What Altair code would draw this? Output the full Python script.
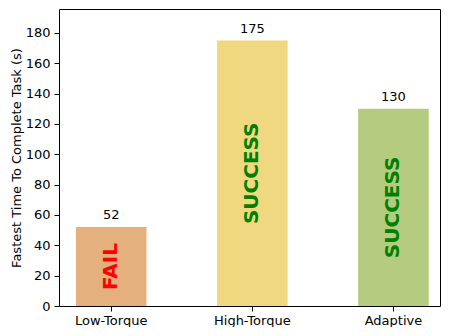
import altair as alt
import pandas as pd

categories = ["Low-Torque", "High-Torque", "Adaptive"]
times = [52, 175, 130]
statuses = ["FAIL", "SUCCESS", "SUCCESS"]
bar_colors = ["#E4B07D", "#F0D880", "#B5CB80"]
status_colors = ["#FF0000", "#008000", "#008000"]
y_ticks = [0, 20, 40, 60, 80, 100, 120, 140, 160, 180]

df = pd.DataFrame({
    "category": categories,
    "time": times,
    "status": statuses,
    "half": [t / 2 for t in times],
    "scolor": status_colors,
})

FONT = "DejaVu Sans"
Y_TITLE = "Fastest Time To Complete Task (s)"

x_axis = alt.Axis(title=None, labelAngle=0, labelFontSize=13, labelFont=FONT,
                  labelColor="black", tickSize=5, tickColor="black",
                  labelPadding=3, domain=False)
y_axis = alt.Axis(title=Y_TITLE, values=y_ticks,
                  grid=False, titleFontSize=13, titleFont=FONT,
                  titleFontWeight="normal", titleColor="black",
                  titlePadding=2, labelFontSize=13, labelFont=FONT,
                  labelColor="black", tickSize=5, tickColor="black",
                  labelPadding=4, domain=False, labelOverlap=False,
                  labelFlush=False)
x_scale = alt.Scale(paddingInner=0.5, paddingOuter=0.1, align=0.6)
y_scale = alt.Scale(domain=[0, 195.8], nice=False, zero=True)


def xe():
    return alt.X("category:N", sort=categories, scale=x_scale, axis=x_axis)


def ye(field):
    return alt.Y(field, type="quantitative", scale=y_scale, axis=y_axis, title=Y_TITLE)


bars = alt.Chart(df).mark_bar().encode(
    x=xe(),
    y=ye("time"),
    color=alt.Color("category:N", scale=alt.Scale(domain=categories, range=bar_colors),
                    legend=None),
)

values = alt.Chart(df).mark_text(
    baseline="alphabetic", align="center", dy=-8, fontSize=13, font=FONT, color="black"
).encode(
    x=xe(),
    y=ye("time"),
    text=alt.Text("time:Q"),
)

status_text = alt.Chart(df).mark_text(
    angle=270, align="center", baseline="middle", fontSize=20, fontWeight="bold", font=FONT
).encode(
    x=xe(),
    y=ye("half"),
    text="status:N",
    color=alt.Color("scolor:N", scale=None),
)

chart = alt.layer(bars, values, status_text).properties(
    width=381,
    height=297,
    autosize=alt.AutoSizeParams(type="none"),
    padding={"left": 51, "top": 1, "right": 1, "bottom": 21},
).configure_view(stroke="black", strokeWidth=1)

chart.save("out.html", embed_options={"renderer": "svg", "actions": False})
